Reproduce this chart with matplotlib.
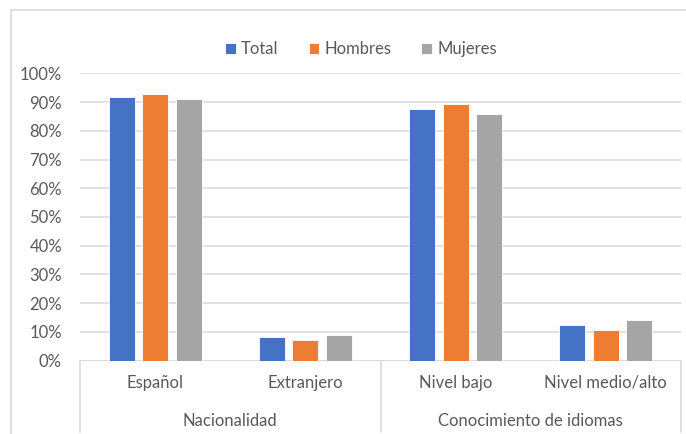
import numpy as np
import matplotlib.pyplot as plt
from matplotlib.patches import Rectangle
from matplotlib.ticker import PercentFormatter

plt.rcParams['font.family'] = ['Lato', 'DejaVu Sans']

categories = ['Español', 'Extranjero', 'Nivel bajo', 'Nivel medio/alto']
groups = ['Nacionalidad', 'Conocimiento de idiomas']
total = [91.8, 8.2, 87.6, 12.4]
hombres = [92.7, 7.3, 89.4, 10.6]
mujeres = [91.0, 9.0, 85.7, 14.3]

series = [('Total', total, '#4472C4'),
          ('Hombres', hombres, '#ED7D31'),
          ('Mujeres', mujeres, '#A5A5A5')]

W, H = 686, 434
fig = plt.figure(figsize=(W / 100, H / 100), dpi=100)
ax = fig.add_axes([80 / W, (H - 360.7) / H, 601 / W, 287.4 / H])

# outer chart frame
fig.patches.append(Rectangle((11 / W, -0.1), 1.0, (H - 10.5) / H + 0.1,
                             transform=fig.transFigure, fill=False,
                             edgecolor='#D9D9D9', linewidth=1.2))

x = np.arange(len(categories))
width = 0.173
step = 0.223
for i, (name, vals, color) in enumerate(series):
    ax.bar(x + (i - 1) * step, vals, width, color=color, label=name,
           edgecolor='white', linewidth=0.6, zorder=3)

ax.set_xlim(-0.5, len(categories) - 0.5)
ax.set_ylim(0, 100)
ax.set_yticks(np.arange(0, 101, 10))
ax.yaxis.set_major_formatter(PercentFormatter(decimals=0))
ax.grid(axis='y', color='#D9D9D9', linewidth=1.1, zorder=0)
for s in ax.spines.values():
    s.set_visible(False)
ax.tick_params(axis='y', length=0, pad=13, labelsize=12, labelcolor='#595959')
ax.tick_params(axis='x', length=0, labelbottom=False)
ax.axhline(0, color='#D9D9D9', linewidth=1.1, zorder=2)

# category labels and group labels below the axis
to_axes = 1 / 287.4
for xi, lab in zip(x, categories):
    ax.text(xi, -22 * to_axes, lab, transform=ax.get_xaxis_transform(),
            ha='center', va='center', fontsize=12, color='#595959')
for gi, lab in enumerate(groups):
    ax.text(0.5 + 2 * gi, -60 * to_axes, lab, transform=ax.get_xaxis_transform(),
            ha='center', va='center', fontsize=12, color='#595959')

for xs in [-0.5, 1.5, 3.5]:
    ax.plot([xs, xs], [0, -71 * to_axes], transform=ax.get_xaxis_transform(),
            color='#D9D9D9', linewidth=1.1, clip_on=False)

leg = fig.legend(loc='center', bbox_to_anchor=(361 / W, (H - 49) / H), ncol=3,
                 frameon=False, fontsize=12, handlelength=0.65, handleheight=0.65,
                 handletextpad=0.3, columnspacing=1.8)
for t in leg.get_texts():
    t.set_color('#595959')

fig.savefig('out.png', dpi=100)
